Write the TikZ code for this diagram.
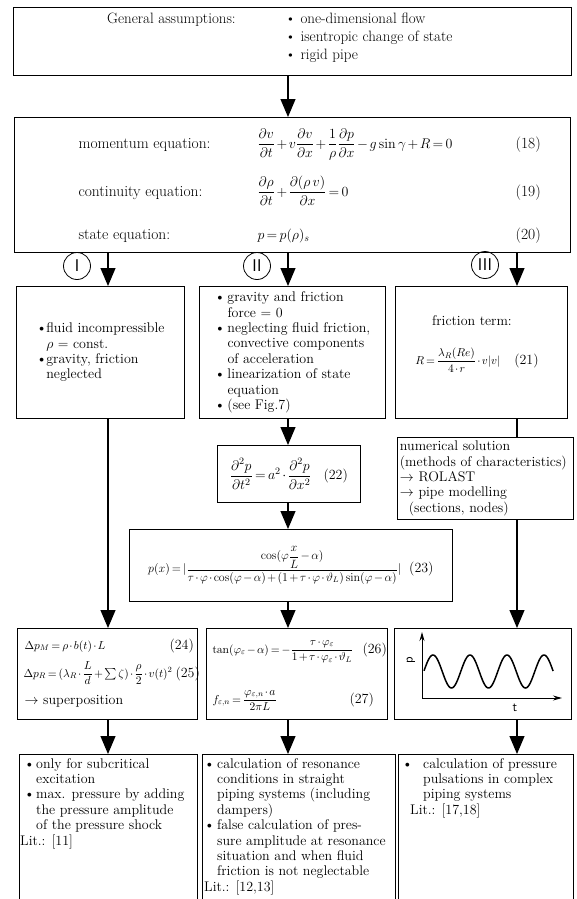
\RequirePackage{fix-cm}
\documentclass[tikz,border=0pt]{standalone}
\usepackage{amsmath,amssymb}
\usetikzlibrary{arrows.meta,calc}

\newcommand{\bulit}[1][13pt]{\makebox[#1][l]{\textbullet}}
\newcommand{\indt}[1][13pt]{\hspace*{#1}}
\newcommand{\boxfont}{\fontsize{14}{15.4}\selectfont}
\newcommand{\labfont}{\fontsize{15.5}{18}\selectfont}
\newcommand{\eqfont}{\fontsize{14}{16}\selectfont}
\newcommand{\smeq}{\fontsize{11.5}{14}\selectfont}
\medmuskip=2mu
\thickmuskip=3mu

\begin{document}
\begin{tikzpicture}[x=1pt, y=-1pt,
    box/.style={draw, line width=0.8pt, anchor=north west, inner sep=2pt},
    txt/.style={anchor=north west, align=left, inner sep=0pt, font=\boxfont},
    arr/.style={line width=1.1pt, -{Triangle[length=18pt,width=15pt]}},
    lin/.style={line width=1.1pt},
    roman/.style={draw, circle, line width=0.8pt, minimum size=27pt, inner sep=0pt,
      font=\sffamily\fontsize{17}{17}\selectfont},
    axis/.style={line width=1pt, -{Stealth[length=9pt,width=5pt]}}]
  \useasboundingbox (0,0) rectangle (576,899);
  \clip (0,0) rectangle (576,899);

  % columns of the three ways
  \coordinate (cI)   at (108,0);
  \coordinate (cII)  at (288,0);
  \coordinate (cIII) at (517,0);

  % general assumptions
  \node[box, minimum width=558, minimum height=68] (top) at (13,7) {};
  \node[anchor=north west, inner sep=0pt, font=\fontsize{15}{18}\selectfont] (gen) at (107,11)
    {\begin{tabular}{@{}p{178pt}@{}l@{}}
       General assumptions: & \textbullet\ one-dimensional flow\\
                            & \textbullet\ isentropic change of state\\
                            & \textbullet\ rigid pipe
     \end{tabular}};

  % basic equations
  \node[box, minimum width=556, minimum height=135] (eqs) at (14,117) {};
  \node[anchor=base west, font=\labfont] (momL) at (75,148) {momentum equation:};
  \node[anchor=base west, font=\eqfont] (momE) at (254,148)
    {$\dfrac{\partial v}{\partial t}+v\dfrac{\partial v}{\partial x}+\dfrac{1}{\rho}\dfrac{\partial p}{\partial x}-g\sin\gamma+R=0$};
  \node[anchor=base west, font=\labfont] (momN) at (512,148) {(18)};
  \node[anchor=base west, font=\labfont] (conL) at (75,196) {continuity equation:};
  \node[anchor=base west, font=\eqfont] (conE) at (254,196)
    {$\dfrac{\partial\rho}{\partial t}+\dfrac{\partial(\rho\, v)}{\partial x}=0$};
  \node[anchor=base west, font=\labfont] (conN) at (512,196) {(19)};
  \node[anchor=base west, font=\labfont] (staL) at (75,239) {state equation:};
  \node[anchor=base west, font=\eqfont] (staE) at (254,239) {$p=p(\rho)_s$};
  \node[anchor=base west, font=\labfont] (staN) at (512,239) {(20)};

  \node[roman] (nI)   at (77,266)  {I};
  \node[roman] (nII)  at (257,266) {II};
  \node[roman] (nIII) at (485,265) {III};

  % way I
  \node[box, minimum width=168, minimum height=132, align=left, font=\boxfont] (a1) at (16,286)
    {\bulit[10pt]fluid incompressible\\ \indt[10pt]$\rho$ = const.\\
     \bulit[10pt]gravity, friction\\ \indt[10pt]neglected};
  \node[box, minimum width=180, minimum height=91] (d) at (17,628) {};
  \node[anchor=base west, font=\smeq] (e24) at (21,649) {$\Delta p_M=\rho\cdot b(t)\cdot L$};
  \node[anchor=base west, font=\boxfont] (n24) at (166,649) {(24)};
  \node[anchor=base west, font=\smeq] (e25) at (20,677)
    {$\Delta p_R=(\lambda_R\cdot\dfrac{L}{d}+\sum\zeta)\cdot\dfrac{\rho}{2}\cdot v(t)^2$};
  \node[anchor=base west, font=\boxfont] (n25) at (172,677) {(25)};
  \node[anchor=base west, font=\boxfont] (sup) at (21,704) {$\rightarrow$ superposition};
  \node[box, minimum width=178, minimum height=160] (g) at (19,754) {};
  \node[txt] (gt) at (20,758)
    {\indt[4pt]\bulit[12pt]only for subcritical\\ \indt[16pt]excitation\\
     \indt[4pt]\bulit[12pt]max. pressure by adding\\ \indt[16pt]the pressure amplitude\\
     \indt[16pt]of the pressure shock\\ Lit.: [11]};

  % way II
  \node[box, minimum width=186, minimum height=132, align=left, font=\boxfont] (b1) at (199,286)
    {\bulit gravity and friction\\ \indt force = 0\\ \bulit neglecting fluid friction,\\
     \indt convective components\\ \indt of acceleration\\ \bulit linearization of state\\
     \indt equation\\ \bulit (see Fig.7)};
  \node[box, minimum width=143, minimum height=57, font=\eqfont] (e22) at (217,445)
    {$\dfrac{\partial^2p}{\partial t^2}=a^2\cdot\dfrac{\partial^2p}{\partial x^2}$\hspace{12pt}{\boxfont(22)}};
  \node[box, minimum width=323, minimum height=72, font=\fontsize{12}{14}\selectfont] (e23) at (129,529)
    {$p(x)=|\dfrac{\cos(\varphi\dfrac{x}{L}-\alpha)}{\tau\cdot\varphi\cdot\cos(\varphi-\alpha)+(1+\tau\cdot\varphi\cdot\vartheta_L)\sin(\varphi-\alpha)}|$\hspace{8pt}{\boxfont(23)}};
  \node[box, minimum width=181, minimum height=91] (e) at (206,628) {};
  \node[anchor=base west, font=\smeq] (e26) at (209,653)
    {$\tan(\varphi_\varepsilon-\alpha)=-\dfrac{\tau\cdot\varphi_\varepsilon}{1+\tau\cdot\varphi_\varepsilon\cdot\vartheta_L}$};
  \node[anchor=base west, font=\boxfont] (n26) at (359,653) {(26)};
  \node[anchor=base west, font=\smeq] (e27) at (209,703)
    {$f_{\varepsilon,n}=\dfrac{\varphi_{\varepsilon,n}\cdot a}{2\pi L}$};
  \node[anchor=base west, font=\boxfont] (n27) at (346,703) {(27)};
  \node[box, minimum width=193, minimum height=160] (h) at (202,754) {};
  \node[txt] (ht) at (204,758)
    {\bulit calculation of resonance\\ \indt conditions in straight\\
     \indt piping systems (including\\ \indt dampers)\\
     \bulit false calculation of pres-\\ \indt sure amplitude at resonance\\
     \indt situation and when fluid\\ \indt friction is not neglectable\\ Lit.: [12,13]};

  % way III
  \node[box, minimum width=172, minimum height=132] (c1) at (395,286) {};
  \node[font=\boxfont] (ft) at (472,321) {friction term:};
  \node[font=\smeq] (e21) at (477,360)
    {$R=\dfrac{\lambda_R(Re)}{4\cdot r}\cdot v|v|$\hspace{14pt}{\boxfont(21)}};
  \node[box, minimum width=176, minimum height=82, text width=171, align=left, font=\boxfont] (num) at (397,437)
    {numerical solution\\ (methods of characteristics)\\ $\rightarrow$ ROLAST\\
     $\rightarrow$ pipe modelling\\ \indt[9pt](sections, nodes)};
  \node[box, minimum width=177, minimum height=91] (f) at (394,628) {};
  \coordinate (o) at (422,698);
  \draw[axis] (o) -- (422,632);
  \draw[axis] (o) -- (562,698);
  \draw[line width=1.5pt, variable=\s, domain=0:3.49, samples=160]
    plot ({424+37*\s}, {671.5-16.5*cos(360*\s-87.6)});
  \node[rotate=90, font=\sffamily\fontsize{13}{13}\selectfont] (pl) at (411,660) {p};
  \node[font=\sffamily\fontsize{13}{13}\selectfont] (tl) at (515,708) {t};
  \node[box, minimum width=175, minimum height=160] (i) at (398,754) {};
  \node[txt] (it) at (402,758)
    {\bulit[21pt]calculation of pressure\\ \indt[21pt]pulsations in complex\\
     \indt[21pt]piping systems\\ \indt[8pt]Lit.: [17,18]};

  % connectors
  \draw[arr] (top.south -| cII) -- (eqs.north -| cII);
  \draw[arr] (eqs.south -| cI) -- (a1.north -| cI);
  \draw[arr] (eqs.south -| cII) -- (b1.north -| cII);
  \draw[arr] (eqs.south -| cIII) -- (c1.north -| cIII);
  \draw[arr] (a1.south -| cI) -- (d.north -| cI);
  \draw[arr] (b1.south -| cII) -- (e22.north -| cII);
  \draw[arr] (e22.south -| cII) -- (e23.north -| cII);
  \draw[arr] (e23.south -| cII) -- (e.north -| cII);
  \draw[lin] (c1.south -| cIII) -- (num.north -| cIII);
  \draw[arr] (num.south -| cIII) -- (f.north -| cIII);
  \draw[arr] (d.south -| cI) -- (g.north -| cI);
  \draw[arr] (e.south -| cII) -- (h.north -| cII);
  \draw[arr] (f.south -| cIII) -- (i.north -| cIII);
\end{tikzpicture}
\end{document}
